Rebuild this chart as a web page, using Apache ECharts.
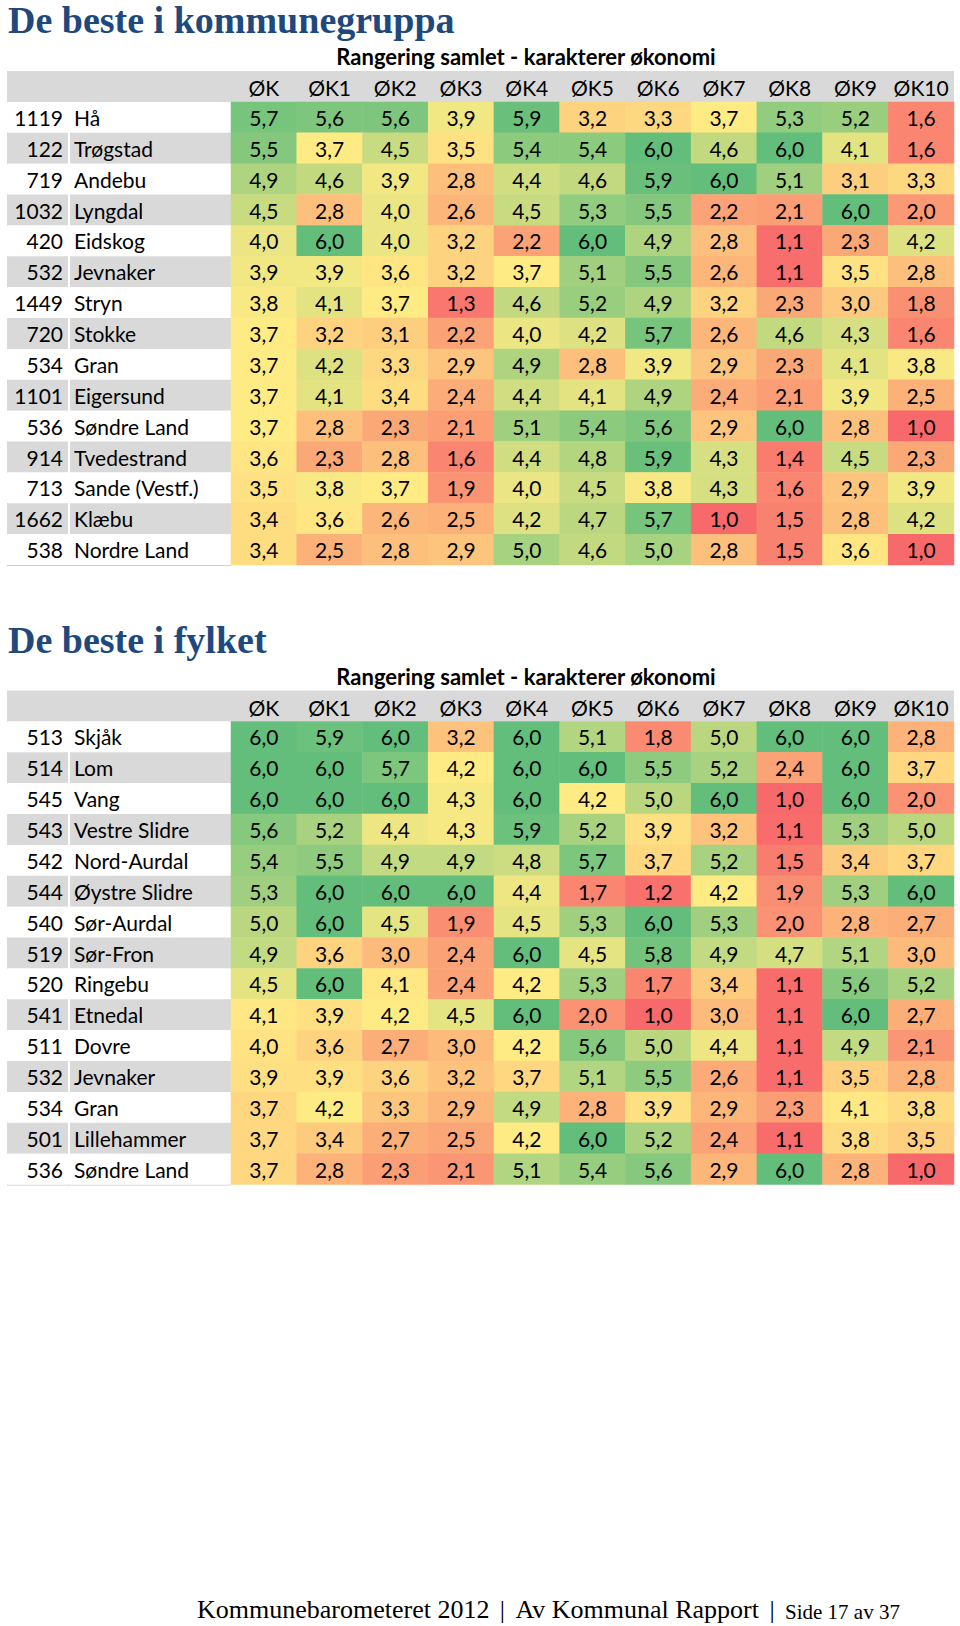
<!DOCTYPE html>
<html><head><meta charset="utf-8">
<script src="https://cdn.jsdelivr.net/npm/echarts@6/dist/echarts.min.js"></script>
<style>html,body{margin:0;padding:0;background:#fff}#c{width:960px;height:1626px}</style>
</head><body><div id="c"></div>
<script>
// ---------- DATA ----------
const colHeaders = ['ØK','ØK1','ØK2','ØK3','ØK4','ØK5','ØK6','ØK7','ØK8','ØK9','ØK10'];

const groupTitle = 'De beste i kommunegruppa';
const groupCodes = ['1119','122','719','1032','420','532','1449','720','534','1101','536','914','713','1662','538'];
const groupNames = ['Hå','Trøgstad','Andebu','Lyngdal','Eidskog','Jevnaker','Stryn','Stokke','Gran','Eigersund','Søndre Land','Tvedestrand','Sande (Vestf.)','Klæbu','Nordre Land'];
const groupValues = [
  [5.7,5.6,5.6,3.9,5.9,3.2,3.3,3.7,5.3,5.2,1.6],
  [5.5,3.7,4.5,3.5,5.4,5.4,6.0,4.6,6.0,4.1,1.6],
  [4.9,4.6,3.9,2.8,4.4,4.6,5.9,6.0,5.1,3.1,3.3],
  [4.5,2.8,4.0,2.6,4.5,5.3,5.5,2.2,2.1,6.0,2.0],
  [4.0,6.0,4.0,3.2,2.2,6.0,4.9,2.8,1.1,2.3,4.2],
  [3.9,3.9,3.6,3.2,3.7,5.1,5.5,2.6,1.1,3.5,2.8],
  [3.8,4.1,3.7,1.3,4.6,5.2,4.9,3.2,2.3,3.0,1.8],
  [3.7,3.2,3.1,2.2,4.0,4.2,5.7,2.6,4.6,4.3,1.6],
  [3.7,4.2,3.3,2.9,4.9,2.8,3.9,2.9,2.3,4.1,3.8],
  [3.7,4.1,3.4,2.4,4.4,4.1,4.9,2.4,2.1,3.9,2.5],
  [3.7,2.8,2.3,2.1,5.1,5.4,5.6,2.9,6.0,2.8,1.0],
  [3.6,2.3,2.8,1.6,4.4,4.8,5.9,4.3,1.4,4.5,2.3],
  [3.5,3.8,3.7,1.9,4.0,4.5,3.8,4.3,1.6,2.9,3.9],
  [3.4,3.6,2.6,2.5,4.2,4.7,5.7,1.0,1.5,2.8,4.2],
  [3.4,2.5,2.8,2.9,5.0,4.6,5.0,2.8,1.5,3.6,1.0]
];

const countyTitle = 'De beste i fylket';
const countyCodes = ['513','514','545','543','542','544','540','519','520','541','511','532','534','501','536'];
const countyNames = ['Skjåk','Lom','Vang','Vestre Slidre','Nord-Aurdal','Øystre Slidre','Sør-Aurdal','Sør-Fron','Ringebu','Etnedal','Dovre','Jevnaker','Gran','Lillehammer','Søndre Land'];
const countyValues = [
  [6.0,5.9,6.0,3.2,6.0,5.1,1.8,5.0,6.0,6.0,2.8],
  [6.0,6.0,5.7,4.2,6.0,6.0,5.5,5.2,2.4,6.0,3.7],
  [6.0,6.0,6.0,4.3,6.0,4.2,5.0,6.0,1.0,6.0,2.0],
  [5.6,5.2,4.4,4.3,5.9,5.2,3.9,3.2,1.1,5.3,5.0],
  [5.4,5.5,4.9,4.9,4.8,5.7,3.7,5.2,1.5,3.4,3.7],
  [5.3,6.0,6.0,6.0,4.4,1.7,1.2,4.2,1.9,5.3,6.0],
  [5.0,6.0,4.5,1.9,4.5,5.3,6.0,5.3,2.0,2.8,2.7],
  [4.9,3.6,3.0,2.4,6.0,4.5,5.8,4.9,4.7,5.1,3.0],
  [4.5,6.0,4.1,2.4,4.2,5.3,1.7,3.4,1.1,5.6,5.2],
  [4.1,3.9,4.2,4.5,6.0,2.0,1.0,3.0,1.1,6.0,2.7],
  [4.0,3.6,2.7,3.0,4.2,5.6,5.0,4.4,1.1,4.9,2.1],
  [3.9,3.9,3.6,3.2,3.7,5.1,5.5,2.6,1.1,3.5,2.8],
  [3.7,4.2,3.3,2.9,4.9,2.8,3.9,2.9,2.3,4.1,3.8],
  [3.7,3.4,2.7,2.5,4.2,6.0,5.2,2.4,1.1,3.8,3.5],
  [3.7,2.8,2.3,2.1,5.1,5.4,5.6,2.9,6.0,2.8,1.0]
];

const subtitleText = 'Rangering samlet - karakterer økonomi';
const footerMain = 'Kommunebarometeret 2012';
const footerMid = 'Av Kommunal Rapport';
const footerPage = 'Side 17 av 37';

// ---------- STYLE / LAYOUT ----------
const FONT = 'Lato';
const FS = 21;
const GRAY = '#d9d9d9';
const LEFT = 7, NUM_W = 61, NAME_L = 70, NAME_W = 161, VAL_L = 231, VAL_W = 723;
const HEAD_H = 31, ROW_H = 30.87;
const RED = [248,105,107], YEL = [255,235,132], GRN = [99,190,123];

function mix(a, b, t) { return a.map((x, i) => Math.round(x + (b[i] - x) * t)); }
function colorScale(v, lo, mid, hi) {
  let c;
  if (v <= mid) c = mix(RED, YEL, mid === lo ? 1 : (v - lo) / (mid - lo));
  else c = mix(YEL, GRN, (v - mid) / (hi - mid));
  return 'rgb(' + c.join(',') + ')';
}
function fmt(v) { return v.toFixed(1).replace('.', ','); }

const option = {
  animation: false,
  backgroundColor: '#ffffff',
  title: [], grid: [], xAxis: [], yAxis: [], series: [],
  graphic: { elements: [] }
};

function addTable(headTop, title, codes, names, values) {
  const rowsTop = headTop + HEAD_H;
  const h = ROW_H * codes.length;
  const flat = values.flat().slice().sort((a, b) => a - b);
  const lo = flat[0], hi = flat[flat.length - 1];
  const p = (flat.length - 1) * 0.5, f = Math.floor(p), cI = Math.ceil(p);
  const mid = flat[f] + (flat[cI] - flat[f]) * (p - f);
  const g0 = option.grid.length;

  option.title.push({
    text: title, left: 8, top: headTop - 71, padding: 0,
    textStyle: { fontFamily: 'Liberation Serif', fontWeight: 'bold', fontSize: 38, lineHeight: 40, color: '#1F497D' }
  });

  const gb = { outerBoundsMode: 'none', containLabel: false };
  option.grid.push(
    Object.assign({ left: LEFT, top: rowsTop, width: NUM_W, height: h }, gb),
    Object.assign({ left: NAME_L, top: rowsTop, width: NAME_W, height: h }, gb),
    Object.assign({ left: VAL_L, top: rowsTop, width: VAL_W, height: h }, gb)
  );
  const lbl = { fontFamily: FONT, fontSize: FS, color: '#000', interval: 0 };
  option.xAxis.push(
    { type: 'category', gridIndex: g0, data: ['nr'], show: false },
    { type: 'category', gridIndex: g0 + 1, data: ['navn'], show: false },
    { type: 'category', gridIndex: g0 + 2, data: colHeaders, position: 'top',
      axisLine: { show: false }, axisTick: { show: false }, splitLine: { show: false },
      axisLabel: Object.assign({ margin: 4 }, lbl) }
  );
  const split = { show: true, areaStyle: { color: ['#ffffff', GRAY] } };
  option.yAxis.push(
    { type: 'category', gridIndex: g0, data: codes, inverse: true, position: 'right',
      axisLine: { show: false }, axisTick: { show: false }, splitLine: { show: false },
      splitArea: split, axisLabel: Object.assign({ inside: true, margin: 5, align: 'right' }, lbl) },
    { type: 'category', gridIndex: g0 + 1, data: names, inverse: true, position: 'left',
      axisLine: { show: false }, axisTick: { show: false }, splitLine: { show: false },
      splitArea: split, axisLabel: Object.assign({ inside: true, margin: 4, align: 'left' }, lbl) },
    { type: 'category', gridIndex: g0 + 2, data: codes, inverse: true, show: false }
  );
  const data = [];
  values.forEach((row, r) => row.forEach((v, c) => {
    data.push({ value: [c, r, v], itemStyle: { color: colorScale(v, lo, mid, hi) } });
  }));
  option.series.push({
    type: 'heatmap', xAxisIndex: g0 + 2, yAxisIndex: g0 + 2, data: data,
    itemStyle: { borderWidth: 0 },
    emphasis: { disabled: true },
    label: { show: true, formatter: (pp) => fmt(pp.value[2]), fontFamily: FONT, fontSize: FS,
             color: '#000', textBorderWidth: 0 }
  });

  const els = option.graphic.elements;
  els.push({ type: 'rect', z: -1, silent: true,
    shape: { x: LEFT, y: headTop, width: VAL_L + VAL_W - LEFT, height: HEAD_H },
    style: { fill: GRAY } });
  els.push({ type: 'line', silent: true,
    shape: { x1: LEFT + 0.5, y1: rowsTop, x2: LEFT + 0.5, y2: rowsTop + h },
    style: { stroke: '#c9cedd', lineWidth: 1 } });
  els.push({ type: 'line', silent: true,
    shape: { x1: LEFT, y1: rowsTop + h + 0.5, x2: VAL_L, y2: rowsTop + h + 0.5 },
    style: { stroke: '#c9cedd', lineWidth: 1 } });
  els.push({ type: 'text', silent: true, x: 526, y: headTop - 14.5,
    style: { text: subtitleText, font: 'bold 22px Lato', fill: '#000',
             textAlign: 'center', align: 'center', textVerticalAlign: 'middle', verticalAlign: 'middle' } });
}

addTable(71, groupTitle, groupCodes, groupNames, groupValues);
addTable(690.5, countyTitle, countyCodes, countyNames, countyValues);

const serif = 'Liberation Serif';
option.graphic.elements.push({
  type: 'text', silent: true, x: 197, y: 1609,
  style: {
    text: '{a|' + footerMain + '}{s||}{a|' + footerMid + '}{s||}{b|' + footerPage + '}',
    fill: '#000', textVerticalAlign: 'middle', verticalAlign: 'middle',
    rich: {
      a: { fontFamily: serif, fontSize: 26, color: '#000', verticalAlign: 'bottom' },
      s: { fontFamily: serif, fontSize: 26, color: '#000', width: 26, align: 'center', verticalAlign: 'bottom' },
      b: { fontFamily: serif, fontSize: 21, color: '#000', verticalAlign: 'bottom' }
    }
  }
});

const chart = echarts.init(document.getElementById('c'), null, { renderer: 'svg' });
chart.setOption(option);
</script>
</body></html>
